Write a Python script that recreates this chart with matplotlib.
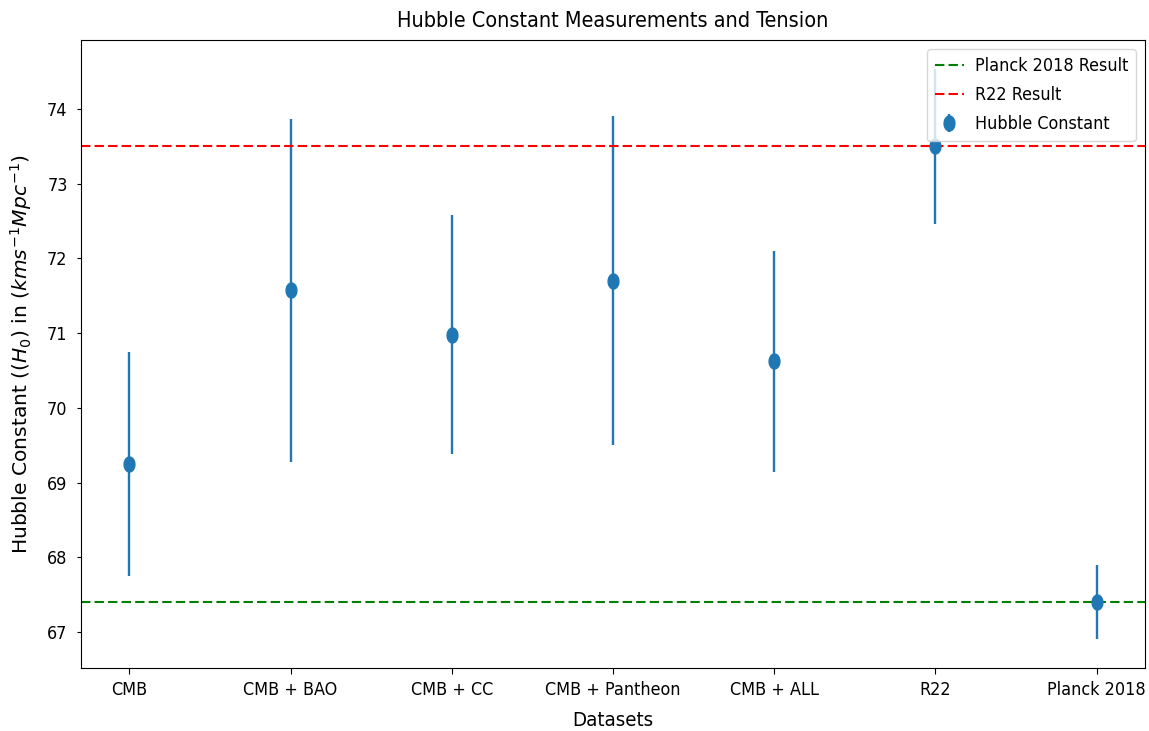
import numpy as np
import matplotlib.pyplot as plt
from matplotlib import font_manager
from matplotlib.path import Path

# data
datasets = ['CMB', 'CMB + BAO', 'CMB + CC', 'CMB + Pantheon', 'CMB + ALL', 'R22', 'Planck 2018']
h0_values = [69.25, 71.57, 70.98, 71.70, 70.62, 73.50, 67.40]
h0_errors = [1.50, 2.29, 1.60, 2.20, 1.48, 1.04, 0.50]
planck_h0 = 67.4
r22_h0 = 73.5

# look for a condensed face (the original looks horizontally squeezed)
narrow_file, scale = None, 0.75
for f in font_manager.fontManager.ttflist:
    fn = f.fname.lower()
    if f.style != 'normal' or f.weight not in (400, 'normal', 'regular'):
        continue
    if 'dejavusanscondensed.ttf' in fn:
        narrow_file, scale = f.fname, 0.86
        break
    if 'liberationsansnarrow-regular' in fn and narrow_file is None:
        narrow_file, scale = f.fname, 1.0

if narrow_file:
    txt_font = dict(fname=narrow_file)
else:
    txt_font = dict(family='DejaVu Sans')

base = 15 * scale
big = 18 * scale

# ellipse marker
t = np.linspace(0, 2 * np.pi, 60)
ellipse = Path(np.column_stack([0.36 * np.cos(t), 0.5 * np.sin(t)]), closed=True)

fig, ax = plt.subplots(figsize=(11.49, 7.31), dpi=100)
fig.subplots_adjust(left=0.0705, right=0.9965, bottom=0.0862, top=0.9453)

x = np.arange(len(datasets))
ax.errorbar(x, h0_values, yerr=h0_errors, fmt='o', marker=ellipse, markersize=10.8,
            elinewidth=1.7, color='#1f77b4', label='Hubble Constant')
ax.axhline(planck_h0, color='green', linestyle='--', linewidth=1.5, dashes=(4.5, 2.0),
           label='Planck 2018 Result')
ax.axhline(r22_h0, color='red', linestyle='--', linewidth=1.5, dashes=(4.5, 2.0),
           label='R22 Result')

ax.set_xticks(x)
ax.set_xticklabels(datasets)
ax.tick_params(axis='x', length=4.3, pad=5)
ax.tick_params(axis='y', length=3, pad=6.7)
for lab in ax.get_xticklabels() + ax.get_yticklabels():
    lab.set_fontproperties(font_manager.FontProperties(size=base, **txt_font))

ax.set_title('Hubble Constant Measurements and Tension', pad=9,
             fontproperties=font_manager.FontProperties(size=big, **txt_font))
ax.set_xlabel('Datasets', labelpad=9,
              fontproperties=font_manager.FontProperties(size=big * 0.95, **txt_font))
ax.set_ylabel(r'Hubble Constant ($(H_0)$ in ($kms^{-1}Mpc^{-1}$)',
              fontsize=14.6, family='DejaVu Sans', labelpad=9.5)

ax.legend(loc='upper right', prop=font_manager.FontProperties(size=base, **txt_font),
          handlelength=1.6, handletextpad=0.6, labelspacing=0.62, borderpad=0.45)

plt.savefig('out.png', dpi=100)
